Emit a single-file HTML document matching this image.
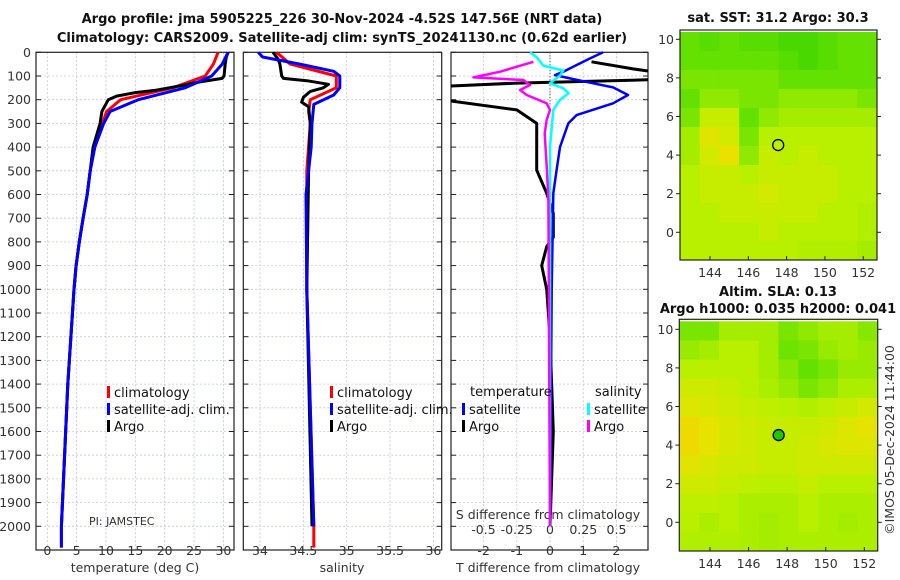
<!DOCTYPE html>
<html><head><meta charset="utf-8">
<style>
html,body{margin:0;padding:0;background:#fff;}
svg{display:block;font-family:"DejaVu Sans","Liberation Sans",sans-serif;}
.t{font-size:12.5px;fill:#333;}
.b{font-size:13px;font-weight:bold;fill:#111;}
.lg{font-size:13px;fill:#111;}
</style></head>
<body>
<svg id="c" width="900" height="580" viewBox="0 0 900 580" xmlns="http://www.w3.org/2000/svg">
<text class="b" x="342" y="23" text-anchor="middle">Argo profile: jma 5905225_226 30-Nov-2024 -4.52S 147.56E (NRT data)</text>
<text class="b" x="342" y="42" text-anchor="middle">Climatology: CARS2009. Satellite-adj clim: synTS_20241130.nc (0.62d earlier)</text>
<text class="b" x="778" y="22" text-anchor="middle">sat. SST: 31.2 Argo: 30.3</text>
<text class="b" x="778" y="296" text-anchor="middle">Altim. SLA: 0.13</text>
<text class="b" x="778" y="313" text-anchor="middle">Argo h1000: 0.035 h2000: 0.041</text>
<text class="t" transform="translate(894,440) rotate(-90)" text-anchor="middle">©IMOS 05-Dec-2024 11:44:00</text>
</svg>
<script>
// ---- data ----
const depthTicks=[0,100,200,300,400,500,600,700,800,900,1000,1100,1200,1300,1400,1500,1600,1700,1800,1900,2000];
const tempTicks=[0,5,10,15,20,25,30];
const salTicks=[34,34.5,35,35.5,36];
const salTickLabels=["34","34.5","35","35.5","36"];
const tdTicks=[-2,-1,0,1,2];
const sdTicks=[-0.5,-0.25,0,0.25,0.5];
const sdTickLabels=["-0.5","-0.25","0","0.25","0.5"];

const climDepth=[0,50,100,150,200,250,300,400,500,600,700,800,900,1000,1400,2000,2090];
const climTemp=[29.1,28.3,26.9,21.4,12.5,10.1,9.4,8.1,7.3,6.8,6.1,5.45,4.9,4.55,3.5,2.4,2.4];
const satTemp=[30.8,29.8,28,23.5,15.5,10.7,9.6,8.1,7.3,6.8,6.1,5.45,4.9,4.55,3.5,2.4,2.4];
const argoDepthT=[0,20,50,100,110,125,140,160,170,185,200,250,300,400,500,600,700,800,900,1000,1400,2000];
const argoTemp=[30.8,30.5,30.3,30.1,29.8,26,23,18.5,15,11.8,10.4,9.3,9.0,7.8,7.3,6.8,6.1,5.45,4.9,4.55,3.5,2.4];

const climSalDepth=[0,50,100,150,200,250,300,500,1000,2000,2090];
const climSal=[34.19,34.35,34.88,34.88,34.58,34.56,34.58,34.54,34.54,34.62,34.62];
const satSalDepth=[0,20,50,80,100,150,180,220,300,400,600,1000,2000];
const satSal=[33.98,34.03,34.46,34.85,34.92,34.92,34.85,34.62,34.6,34.59,34.53,34.54,34.62];
const argoSalDepth=[0,30,50,100,110,120,135,150,165,190,210,230,300,500,1000,2000];
const argoSal=[34.15,34.21,34.23,34.25,34.27,34.54,34.79,34.73,34.58,34.5,34.48,34.56,34.58,34.56,34.54,34.6];

const tSatDepth=[0,26,61,82,96,110,131,148,180,215,265,300,400,497,595,1000,2000];
const tSatDiff=[1.6,1.2,0.7,0.4,0.15,0.6,1.3,1.9,2.35,1.9,0.8,0.55,0.3,0.2,0.1,0.05,0];
const tArgoDepth=[40,70,90,115,130,145,190,205,243,300,400,497,595,680,780,820,900,1000,1200,1600,2000];
const tArgoDiff=[1.25,2.5,3.5,3.2,-1,-3.5,-3.5,-3.0,-1.0,-0.4,-0.4,-0.4,-0.1,0.1,0.1,-0.1,-0.25,-0.1,0,0.1,0];
const sSatDepth=[0,21,56,77,98,131,152,173,201,243,400,2000];
const sSatDiff=[-0.15,-0.1,-0.05,0.1,0.075,0,0.1,0.14,0.075,0.025,0,0];
const sArgoDepth=[40,82,106,117,138,159,180,215,243,285,342,482,623,2000];
const sArgoDiff=[-0.125,-0.375,-0.575,-0.2,-0.15,-0.225,-0.175,-0.025,0,-0.025,-0.04,-0.025,-0.012,0];

const lonTicks=[144,146,148,150,152];
const latTicks=[0,2,4,6,8,10];
const floatLon=147.56, floatLat=4.52;
const sstGrid=[
[0.3,0.25,0.3,0.25,0.25,0.2,0.2,0.25,0.3,0.3],
[0.3,0.3,0.3,0.3,0.3,0.25,0.2,0.25,0.3,0.3],
[0.35,0.35,0.35,0.35,0.35,0.3,0.3,0.3,0.3,0.3],
[0.3,0.4,0.4,0.35,0.35,0.4,0.4,0.4,0.4,0.35],
[0.35,0.55,0.55,0.3,0.4,0.45,0.45,0.45,0.45,0.45],
[0.45,0.65,0.6,0.35,0.5,0.5,0.5,0.5,0.5,0.5],
[0.45,0.6,0.7,0.4,0.55,0.5,0.55,0.5,0.5,0.5],
[0.5,0.55,0.55,0.5,0.55,0.55,0.55,0.55,0.5,0.5],
[0.5,0.55,0.55,0.55,0.6,0.55,0.55,0.55,0.5,0.5],
[0.5,0.5,0.55,0.55,0.55,0.55,0.55,0.5,0.5,0.48],
[0.5,0.5,0.5,0.5,0.55,0.5,0.5,0.5,0.5,0.48],
[0.5,0.5,0.5,0.5,0.5,0.5,0.48,0.48,0.48,0.45]];
const slaGrid=[
[0.35,0.35,0.45,0.45,0.45,0.35,0.4,0.45,0.45,0.38],
[0.42,0.45,0.5,0.5,0.45,0.32,0.35,0.42,0.45,0.42],
[0.5,0.5,0.5,0.5,0.45,0.38,0.3,0.35,0.42,0.42],
[0.58,0.58,0.55,0.5,0.47,0.42,0.35,0.4,0.47,0.47],
[0.64,0.62,0.58,0.55,0.52,0.5,0.48,0.52,0.56,0.6],
[0.72,0.68,0.62,0.58,0.55,0.55,0.55,0.58,0.64,0.68],
[0.72,0.68,0.62,0.58,0.55,0.55,0.58,0.62,0.64,0.64],
[0.66,0.62,0.58,0.58,0.55,0.55,0.58,0.58,0.58,0.58],
[0.58,0.58,0.55,0.52,0.5,0.5,0.55,0.5,0.5,0.5],
[0.52,0.52,0.5,0.47,0.47,0.47,0.5,0.47,0.47,0.47],
[0.5,0.47,0.5,0.47,0.45,0.47,0.5,0.47,0.45,0.47],
[0.48,0.48,0.48,0.47,0.45,0.47,0.47,0.47,0.47,0.47]];

// ---- drawing ----
const svg=document.getElementById('c');
const NS='http://www.w3.org/2000/svg';
function mk(tag,attrs,parent){const e=document.createElementNS(NS,tag);for(const k in attrs)e.setAttribute(k,attrs[k]);(parent||svg).appendChild(e);return e;}
const TOP=52.3, BOT=550, K=0.237;
const yD=d=>TOP+d*K;
const xT=t=>47.3+t*5.87;
const xS=s=>260+(s-34)*86.7;
const xTD=t=>550+t*33.2;
const xSD=s=>550+s*133;
const panels=[[36,234],[243.3,441.7],[451,648]];

function clip(id,x0,x1,y0,y1){const cp=mk('clipPath',{id:id});mk('rect',{x:x0,y:y0,width:x1-x0,height:y1-y0},cp);}
panels.forEach((p,i)=>clip('cp'+i,p[0],p[1],TOP-1,BOT));

function panelFrame(i,xt,ticks,name){
  const [x0,x1]=panels[i];
  ticks.forEach(v=>{const l=mk('line',{x1:xt(v),x2:xt(v),y1:TOP,y2:BOT,stroke:'#b8c4e0','stroke-width':0.8,'stroke-dasharray':'2,2'});
    });
  depthTicks.forEach(d=>{const l=mk('line',{x1:x0,x2:x1,y1:yD(d),y2:yD(d),stroke:'#c8c8d8','stroke-width':0.8,'stroke-dasharray':'2,2'});
    
    mk('line',{x1:x0,x2:x0+5,y1:yD(d),y2:yD(d),stroke:'#222'});mk('line',{x1:x1-5,x2:x1,y1:yD(d),y2:yD(d),stroke:'#222'});});
  const r=mk('rect',{x:x0,y:TOP,width:x1-x0,height:BOT-TOP,fill:'none',stroke:'#222','stroke-width':1.2});
  
}
function line(xs,ds,xf,color,w,i,name){
  const pts=xs.map((v,k)=>xf(v).toFixed(1)+','+yD(ds[k]).toFixed(1)).join(' ');
  const p=mk('polyline',{points:pts,fill:'none',stroke:color,'stroke-width':w,'stroke-linejoin':'round','clip-path':'url(#cp'+i+')'});
  
}
function txt(s,x,y,cls,anchor,name){const t=mk('text',{x:x,y:y,class:cls,'text-anchor':anchor||'start'});t.textContent=s;
  return t;}

panelFrame(0,xT,tempTicks,'temp-panel');
panelFrame(1,xS,salTicks,'salinity-panel');
panelFrame(2,xTD,tdTicks,'diff-panel');
depthTicks.forEach(d=>txt(String(d),31,yD(d)+4.5,'t','end','depth-tick-label'));
tempTicks.forEach(v=>txt(String(v),xT(v),555,'t','middle','temp-tick-label'));
salTicks.forEach((v,k)=>txt(salTickLabels[k],xS(v),555,'t','middle','salinity-tick-label'));
tdTicks.forEach(v=>txt(String(v),xTD(v),555,'t','middle','tdiff-tick-label'));
sdTicks.forEach((v,k)=>txt(sdTickLabels[k],xSD(v),534,'t','middle','sdiff-tick-label'));
txt('temperature (deg C)',135,572,'t','middle','temp-axis-title');
txt('salinity',342,572,'t','middle','salinity-axis-title');
txt('T difference from climatology',548,572,'t','middle','tdiff-axis-title');
txt('S difference from climatology',548,519,'t','middle','sdiff-axis-title');
txt('PI: JAMSTEC',89,525,'t','start','pi-label').setAttribute('style','font-size:11px');

const zl=mk('line',{x1:xTD(0),x2:xTD(0),y1:TOP,y2:yD(220),stroke:'#333','stroke-width':1,'stroke-dasharray':'1,2'});


line(climTemp,climDepth,xT,'#f00',3,0,'temp-climatology-line');
line(argoTemp,argoDepthT,xT,'#000',3,0,'temp-argo-line');
line(satTemp,climDepth,xT,'#00f',3,0,'temp-satellite-line');
line(climSal,climSalDepth,xS,'#f00',3,1,'salinity-climatology-line');
line(argoSal,argoSalDepth,xS,'#000',3,1,'salinity-argo-line');
line(satSal,satSalDepth,xS,'#00f',3,1,'salinity-satellite-line');
line(tArgoDiff,tArgoDepth,xTD,'#000',3,2,'tdiff-argo-line');
line(tSatDiff,tSatDepth,xTD,'#00f',2.5,2,'tdiff-satellite-line');
line(sSatDiff,sSatDepth,xSD,'#0ff',2.5,2,'sdiff-satellite-line');
line(sArgoDiff,sArgoDepth,xSD,'#f0f',2.5,2,'sdiff-argo-line');

function legend(x,y,color,label,name){const r=mk('rect',{x:x,y:y-10,width:3,height:12,fill:color});
  txt(label,x+7,y+1,'lg','start',name);}
legend(107,396,'#f00','climatology','legend-temp-climatology');
legend(107,413,'#00f','satellite-adj. clim.','legend-temp-satellite');
legend(107,430,'#000','Argo','legend-temp-argo');
legend(330,396,'#f00','climatology','legend-sal-climatology');
legend(330,413,'#00f','satellite-adj. clim.','legend-sal-satellite');
legend(330,430,'#000','Argo','legend-sal-argo');
txt('temperature',470,396,'lg','start','legend-title-temperature');
txt('salinity',595,396,'lg','start','legend-title-salinity');
legend(462,413,'#00f','satellite','legend-tdiff-satellite');
legend(462,430,'#000','Argo','legend-tdiff-argo');
legend(587,413,'#0ff','satellite','legend-sdiff-satellite');
legend(587,430,'#f0f','Argo','legend-sdiff-argo');

// maps
function col(v){const stops=[[0,[20,200,0]],[0.3,[100,225,0]],[0.5,[185,240,0]],[0.7,[235,225,0]],[0.85,[245,170,0]],[1,[200,40,0]]];
  for(let i=1;i<stops.length;i++){if(v<=stops[i][0]){const a=stops[i-1],b=stops[i],f=(v-a[0])/(b[0]-a[0]);
    return 'rgb('+a[1].map((c,k)=>Math.round(c+(b[1][k]-c)*f)).join(',')+')';}}return 'rgb(200,40,0)';}
function map(grid,x0,x1,y0,y1,lat10,lat0,name,filled){
  const g=mk('g',{});
  const xL=lon=>710+(lon-144)*19.25*(x1-x0)/198;
  const yL=lat=>lat0+(lat10-lat0)*lat/10;
  const rows=grid.length,cols=grid[0].length,cw=(x1-x0)/cols,top=y0+2,ch=(y1-top)/rows;
  grid.forEach((row,r)=>row.forEach((v,c)=>{const e=mk('rect',{x:x0+c*cw,y:top+r*ch,width:cw+0.5,height:ch+0.5,fill:col(v)},g);
    }));
  const fr=mk('rect',{x:x0,y:y0,width:x1-x0,height:y1-y0,fill:'none',stroke:'#222','stroke-width':1.2});
  
  lonTicks.forEach(l=>{mk('line',{x1:xL(l),x2:xL(l),y1:y1,y2:y1-4,stroke:'#222'});txt(String(l),xL(l),y1+17,'t','middle',name+'-lon-tick');});
  latTicks.forEach(l=>{mk('line',{x1:x0,x2:x0-4,y1:yL(l),y2:yL(l),stroke:'#222'});mk('line',{x1:x1,x2:x1+4,y1:yL(l),y2:yL(l),stroke:'#222'});
    txt(String(l),x0-6,yL(l)+4.5,'t','end',name+'-lat-tick');});
  const m=mk('circle',{cx:xL(floatLon),cy:yL(floatLat),r:5.5,fill:filled?'#20c800':'none',stroke:'#000','stroke-width':1.3});
  
}
map(sstGrid,680,877,30,260,39.3,232.3,'sst-map',false);
map(slaGrid,679.3,877.7,319.3,551,329.3,522.3,'sla-map',true);
</script>
</body></html>
